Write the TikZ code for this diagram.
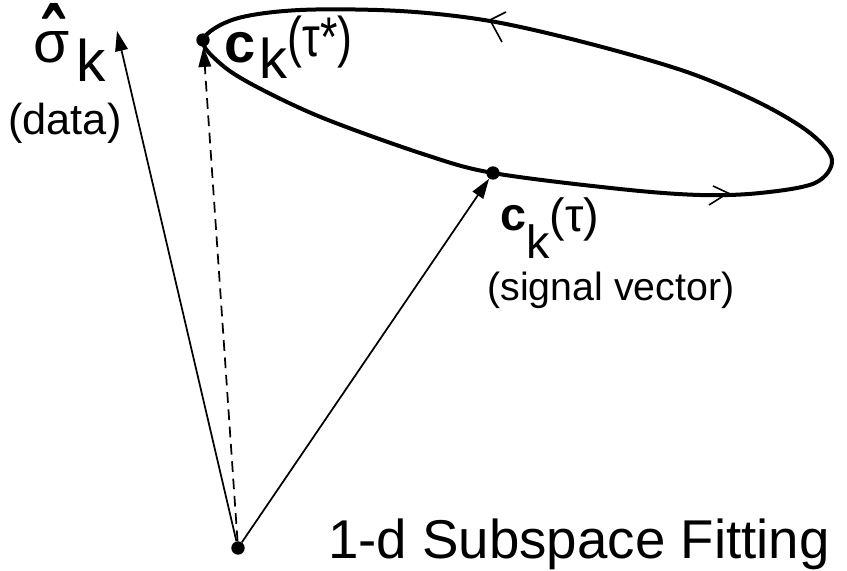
\documentclass[tikz,border=0pt]{standalone}
\usepackage{fontspec}
\usepackage{graphicx}
\setmainfont{Liberation Sans}
\usetikzlibrary{arrows.meta}

\tikzset{
  dot/.style={circle,fill,inner sep=0pt,minimum size=10pt},
  vec/.style={line width=1.3pt,-{Triangle[length=15pt,width=9.5pt]}},
  orbit/.style={line width=3pt},
  lbl/.style={inner sep=0pt,anchor=base west},
}

\begin{document}
\begin{tikzpicture}[x=0.75pt,y=-0.75pt]
\useasboundingbox (0,0) rectangle (847,571);
\coordinate (porig) at (238,548);
\coordinate (pstar) at (203,40);
\coordinate (ptau) at (493,173);
\coordinate (shat) at (117,31);

% the closed curve c_k(tau)
\draw[orbit] plot[smooth cycle,tension=0.55] coordinates {(pstar) (235,19) (300,10) (400,11)
  (490,21) (587,43) (687,72) (760,103) (810,133) (832,160) (815,183) (760,193) (700,195)
  (620,189) (ptau) (423,154) (323,118) (257,87) (222,65)};
\draw[line width=1.2pt] (506,12) -- (490,20) -- (502,42);
\draw[line width=1.2pt] (713,186) -- (728,193) -- (709,205);

\node[dot] (o) at (porig) {};
\node[dot] (cstar) at (pstar) {};
\node[dot] (ctau) at (ptau) {};

\draw[vec] (o) -- (shat);
\draw[vec,dash pattern=on 8pt off 5pt] (o) -- (cstar);
\draw[vec] (o) -- (ctau);

% labels
\node[lbl,font=\fontsize{44}{44}\selectfont] (sigk) at (33,62)
  {\makebox[0pt][l]{\hspace{0.16em}\raisebox{-0.2em}{\scalebox{1.1}[1.6]{\textbf{ˆ}}}}σ\raisebox{-0.34em}{\kern0.12em k}};
\node[lbl,font=\fontsize{32.5}{32.5}\selectfont] (data) at (8,134) {(data)};
\node[lbl,font=\fontsize{42}{42}\selectfont] (cklab) at (224,62)
  {\textbf{c}\raisebox{-0.3em}{\kern0.08em k}\raisebox{0.1em}{\scalebox{0.8}[1]{(τ*)}}};
\node[lbl,font=\fontsize{35}{35}\selectfont] (cklab2) at (500,230)
  {\textbf{c}\raisebox{-0.6em}{k}\raisebox{-0.03em}{(τ)}};
\node[lbl,font=\fontsize{29.5}{29.5}\selectfont] (sigvec) at (487,300) {(signal vector)};
\node[lbl,font=\fontsize{41}{41}\selectfont] (title) at (328,558) {1-d Subspace Fitting};
\end{tikzpicture}
\end{document}
